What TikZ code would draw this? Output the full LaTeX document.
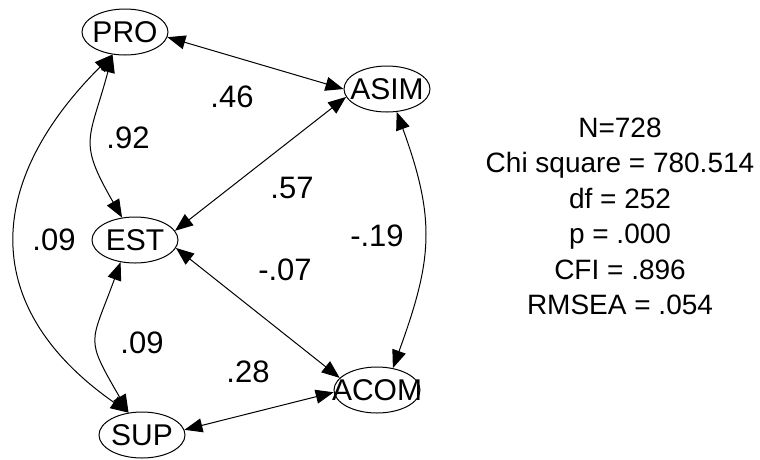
\documentclass[tikz,border=0pt]{standalone}
\usepackage{fontspec}
\setmainfont{Liberation Sans}
\usetikzlibrary{arrows.meta,shapes.geometric}
\begin{document}
\begin{tikzpicture}[>={Triangle[length=18pt,width=14pt]}, x=1pt, y=-1pt, line width=1pt,
  latent/.style={draw, ellipse, inner sep=0pt, minimum width=86pt, minimum height=46pt, font=\fontsize{30}{32}\selectfont},
  coef/.style={font=\fontsize{31}{33}\selectfont, inner sep=0pt}]
\useasboundingbox (0,0) rectangle (760,459);
\node[latent] (PRO) at (125,32) {\makebox[0pt]{PRO}};
\node[latent] (ASIM) at (387,89) {\makebox[0pt]{ASIM}};
\node[latent] (EST) at (135,240) {\makebox[0pt]{EST}};
\node[latent] (ACOM) at (377,390) {\makebox[0pt]{ACOM}};
\node[latent] (SUP) at (142,435) {\makebox[0pt]{SUP}};
\tikzset{<->}
\draw (PRO.-7) -- (ASIM.180);
\draw (ASIM.191) -- (EST.13);
\draw (EST.-11) -- (ACOM.162);
\draw (SUP.7) -- (ACOM.183);
\draw (PRO.241) to[out=255, in=120, looseness=1.4] (EST.120);
\draw (EST.237) to[out=250, in=120, looseness=1.5] (SUP.121);
\draw (PRO.241) to[out=225, in=145, looseness=1.3] (SUP.121);
\draw (ASIM.293) to[out=290, in=70, looseness=1.15] (ACOM.54);
\tikzset{-}
\node[coef] (c46) at (232,97) {.46};
\node[coef] (c92) at (128,138) {.92};
\node[coef] (c57) at (292,188) {.57};
\node[coef] (c09a) at (54,240) {.09};
\node[coef] (c19) at (377,236) {-.19};
\node[coef] (c07) at (285,270) {-.07};
\node[coef] (c09b) at (142,343) {.09};
\node[coef] (c28) at (248,372) {.28};
\node[align=center, font=\fontsize{28}{35.5}\selectfont, anchor=north] (fit) at (620,114)
  {N=728\\Chi square = 780.514\\df = 252\\p = .000\\CFI = .896\\RMSEA = .054};
\end{tikzpicture}
\end{document}
